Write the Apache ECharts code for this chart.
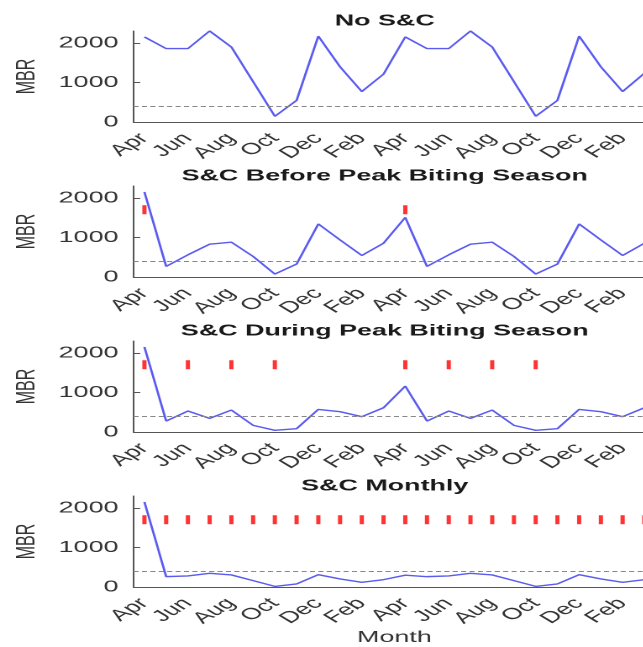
<!DOCTYPE html>
<html><head><meta charset="utf-8">
<script src="https://cdn.jsdelivr.net/npm/echarts@6/dist/echarts.min.js"></script>
<style>
html,body{margin:0;padding:0;width:643px;height:647px;overflow:hidden;background:#fff}
#chart{position:absolute;left:0;top:0;width:400px;height:647px;transform:scaleX(1.68);transform-origin:0 0}
</style></head><body><div id="chart"></div>
<script>
// ---- data ----
const months = ['Apr','May','Jun','Jul','Aug','Sep','Oct','Nov','Dec','Jan','Feb','Mar',
                'Apr','May','Jun','Jul','Aug','Sep','Oct','Nov','Dec','Jan','Feb','Mar'];
const titles = ['No S&C', 'S&C Before Peak Biting Season', 'S&C During Peak Biting Season', 'S&C Monthly'];
const noSC    = [2150,1855,1855,2300,1895,1020,145,545,2170,1395,770,1210, 2150,1855,1855,2300,1895,1020,145,545,2170,1395,770,1230];
const before  = [2150,268,560,830,880,520,75,326,1340,937,544,854, 1506,268,560,830,880,520,75,326,1340,937,544,854];
const during  = [2150,277,530,345,555,168,42,84,571,513,387,613, 1160,277,530,345,555,168,42,84,571,513,387,613];
const monthly = [2150,262,280,345,305,160,15,76,312,203,118,186, 298,262,280,345,305,160,15,76,312,203,118,186];
const sprayNone = [];
const sprayBefore = [0, 12];
const sprayDuring = [0, 2, 4, 6, 12, 14, 16, 18];
const sprayMonthly = [0,1,2,3,4,5,6,7,8,9,10,11,12,13,14,15,16,17,18,19,20,21,22,23];
const sprayLevel = 1700;
const threshold = 400;
const yTicks = [0, 1000, 2000];
const yMax = 2300;

// ---- build ----
const seriesData = [noSC, before, during, monthly];
const sprayData = [sprayNone, sprayBefore, sprayDuring, sprayMonthly];
const FONT = 'Liberation Sans';
const grid = [], xAxis = [], yAxis = [], series = [], title = [];
for (let i = 0; i < 4; i++) {
  const top = 31 + 155 * i;
  grid.push({left: 75, width: 315, top: top, height: 91});
  title.push({text: titles[i], left: 229, top: top - 10, padding: 0,
    textAlign: 'center', textVerticalAlign: 'middle',
    textStyle: {fontFamily: FONT, fontWeight: 'bold', fontSize: 16, color: '#1a1a1a'}});
  const xa = {type: 'category', gridIndex: i, data: months, boundaryGap: true,
    axisLine: {lineStyle: {color: '#555', width: 1}},
    axisTick: {inside: true, interval: 1, alignWithLabel: true, length: 4, lineStyle: {color: '#555'}},
    axisLabel: {interval: 1, rotate: 45, margin: 14, fontSize: 16, fontFamily: FONT, color: '#333'},
    splitLine: {show: false}};
  if (i === 3) {
    xa.name = 'Month'; xa.nameLocation = 'middle'; xa.nameGap = 42;
    xa.nameTextStyle = {fontSize: 16, fontFamily: FONT, color: '#333'};
  }
  xAxis.push(xa);
  yAxis.push({type: 'value', gridIndex: i, min: 0, max: yMax,
    axisLine: {show: true, lineStyle: {color: '#555', width: 1}},
    axisTick: {show: true, inside: true, length: 4, customValues: yTicks, lineStyle: {color: '#555'}},
    axisLabel: {customValues: yTicks, formatter: v => String(v), margin: 9, fontSize: 16, fontFamily: FONT, color: '#333'},
    splitLine: {show: false},
    name: 'MBR', nameLocation: 'middle', nameRotate: 90, nameGap: 52,
    nameTextStyle: {fontSize: 16, fontFamily: FONT, color: '#333'}});
  series.push({type: 'line', xAxisIndex: i, yAxisIndex: i, data: seriesData[i], symbol: 'none',
    lineStyle: {color: '#5b5bf0', width: 1.4},
    markLine: {silent: true, symbol: ['none', 'none'], label: {show: false},
      lineStyle: {type: [3, 2], color: '#888', width: 1.1}, data: [{yAxis: threshold}]}});
  if (sprayData[i].length) {
    series.push({type: 'scatter', xAxisIndex: i, yAxisIndex: i,
      data: sprayData[i].map(m => [m, sprayLevel]),
      symbol: 'rect', symbolSize: [2.5, 9], itemStyle: {color: '#ff0000'}});
  }
}
const chart = echarts.init(document.getElementById('chart'), null, {renderer: 'canvas', devicePixelRatio: 2});
chart.setOption({animation: false, backgroundColor: '#fff', title, grid, xAxis, yAxis, series});
</script></body></html>
